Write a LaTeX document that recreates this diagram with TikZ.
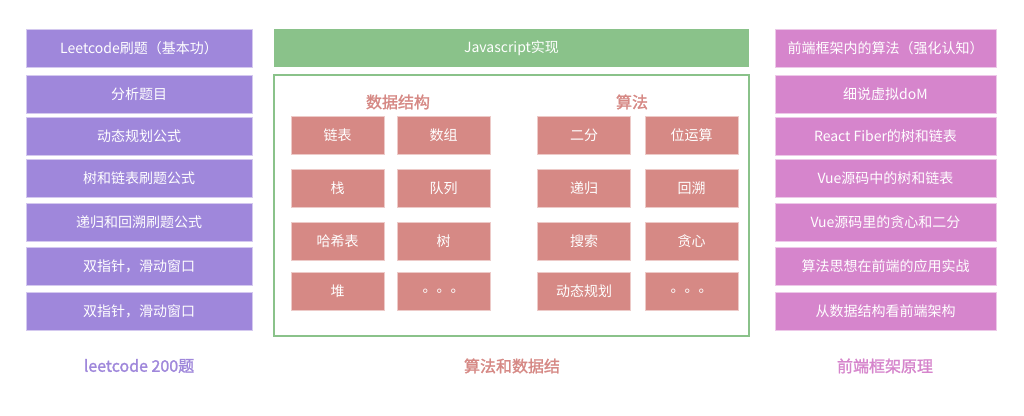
\documentclass[tikz,border=0pt]{standalone}
\usepackage{fontspec}
\setmainfont{Noto Sans CJK SC}
\newfontfamily\cjkb[FakeBold=1.5]{Noto Sans CJK SC}
\definecolor{purp}{RGB}{159,135,219}
\definecolor{grn}{RGB}{138,194,138}
\definecolor{rd}{RGB}{214,137,133}
\definecolor{pnk}{RGB}{214,133,204}
\begin{document}
\begin{tikzpicture}[x=1pt,y=-1pt,
  pbox/.style={draw=purp!45!white,line width=0.8pt,fill=purp,text=white,minimum width=226pt,minimum height=38pt,inner sep=0pt,font=\fontsize{14}{16}\selectfont},
  kbox/.style={draw=pnk!45!white,line width=0.8pt,fill=pnk,text=white,minimum width=221pt,minimum height=38pt,inner sep=0pt,font=\fontsize{14}{16}\selectfont},
  rbox/.style={draw=rd!45!white,line width=0.8pt,fill=rd,text=white,minimum width=93pt,minimum height=38pt,inner sep=0pt,font=\fontsize{14}{16}\selectfont},
  ttl/.style={text=rd,font=\cjkb\fontsize{16}{18}\selectfont},
  lbl/.style={font=\cjkb\fontsize{16}{18}\selectfont}]
\useasboundingbox (0,0) rectangle (1024,415);
\fill[white] (0,0) rectangle (1024,415);
% left column
\node[pbox] (l1) at (139,48) {Leetcode刷题（基本功）};
\node[pbox] (l2) at (139,94) {分析题目};
\node[pbox] (l3) at (139,136) {动态规划公式};
\node[pbox] (l4) at (139,178) {树和链表刷题公式};
\node[pbox] (l5) at (139,222) {递归和回溯刷题公式};
\node[pbox] (l6) at (139,266) {双指针，滑动窗口};
\node[pbox] (l7) at (139,311) {双指针，滑动窗口};
\node[lbl,text=purp] (lt) at (139,366) {leetcode 200题};
% middle
\node[fill=grn,text=white,minimum width=475pt,minimum height=38pt,inner sep=0pt,font=\fontsize{14}{16}\selectfont] (js) at (511.5,48) {Javascript实现};
\node[draw=grn,line width=1.2pt,minimum width=475pt,minimum height=261pt,inner sep=0pt] (frame) at (511.5,205.5) {};
\node[ttl] (ds) at (398,102) {数据结构};
\node[ttl] (al) at (632,102) {算法};
\node[rbox] (d1) at (337.5,135) {链表};
\node[rbox] (d2) at (443.5,135) {数组};
\node[rbox] (d3) at (337.5,188) {栈};
\node[rbox] (d4) at (443.5,188) {队列};
\node[rbox] (d5) at (337.5,241) {哈希表};
\node[rbox] (d6) at (443.5,241) {树};
\node[rbox] (d7) at (337.5,291) {堆};
\node[rbox] (d8) at (443.5,291) {。。。};
\node[rbox] (a1) at (584,135) {二分};
\node[rbox] (a2) at (691.5,135) {位运算};
\node[rbox] (a3) at (584,188) {递归};
\node[rbox] (a4) at (691.5,188) {回溯};
\node[rbox] (a5) at (584,241) {搜索};
\node[rbox] (a6) at (691.5,241) {贪心};
\node[rbox] (a7) at (584,291) {动态规划};
\node[rbox] (a8) at (691.5,291) {。。。};
\node[lbl,text=rd] (mt) at (512,366) {算法和数据结};
% right column
\node[kbox] (r1) at (885.5,48) {前端框架内的算法（强化认知）};
\node[kbox] (r2) at (885.5,94) {细说虚拟doM};
\node[kbox] (r3) at (885.5,136) {React Fiber的树和链表};
\node[kbox] (r4) at (885.5,178) {Vue源码中的树和链表};
\node[kbox] (r5) at (885.5,222) {Vue源码里的贪心和二分};
\node[kbox] (r6) at (885.5,266) {算法思想在前端的应用实战};
\node[kbox] (r7) at (885.5,311) {从数据结构看前端架构};
\node[lbl,text=pnk] (rt) at (885,366) {前端框架原理};
\end{tikzpicture}
\end{document}
